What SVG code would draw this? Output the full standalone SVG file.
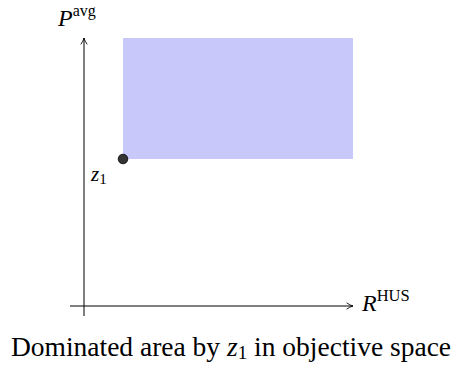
<svg xmlns="http://www.w3.org/2000/svg" width="459" height="365" viewBox="0 0 459 365">
<style>
.math{font-family:"Liberation Serif","DejaVu Serif",serif;font-style:italic;}
.rm{font-family:"Liberation Serif","DejaVu Serif",serif;}
.axis{stroke:#000;stroke-width:1;fill:none;}
</style>
<defs>
<marker id="arr" viewBox="0 0 10 10" refX="9" refY="5" markerWidth="8" markerHeight="8" orient="auto" markerUnits="userSpaceOnUse">
<path d="M1,1 Q5,4 9,5 Q5,6 1,9" fill="none" stroke="#000" stroke-width="1.1"/>
</marker>
</defs>
<g id="area">
<rect x="123" y="38" width="230" height="121" fill="#c8c8fb"/>
</g>
<g id="connectors">
<line class="axis" x1="84" y1="316" x2="84" y2="38" marker-end="url(#arr)"/>
<line class="axis" x1="70" y1="306" x2="353" y2="306" marker-end="url(#arr)"/>
</g>
<g id="point">
<circle cx="123" cy="159" r="4.8" fill="#333" stroke="#000" stroke-width="0.8"/>
</g>
<g id="labels">
<text x="58" y="26" font-size="24" class="math">P<tspan class="rm" font-style="normal" font-size="16" dy="-10">avg</tspan></text>
<text x="91" y="181" font-size="21" class="math">z<tspan class="rm" font-style="normal" font-size="15" dy="3">1</tspan></text>
<text x="362" y="311" font-size="24" class="math">R<tspan class="rm" font-style="normal" font-size="16.5" dy="-10">HUS</tspan></text>
<text x="231" y="356" font-size="27.5" class="rm" text-anchor="middle">Dominated area by <tspan class="math">z</tspan><tspan font-size="19" baseline-shift="-3">1</tspan> in objective space</text>
</g>
</svg>
